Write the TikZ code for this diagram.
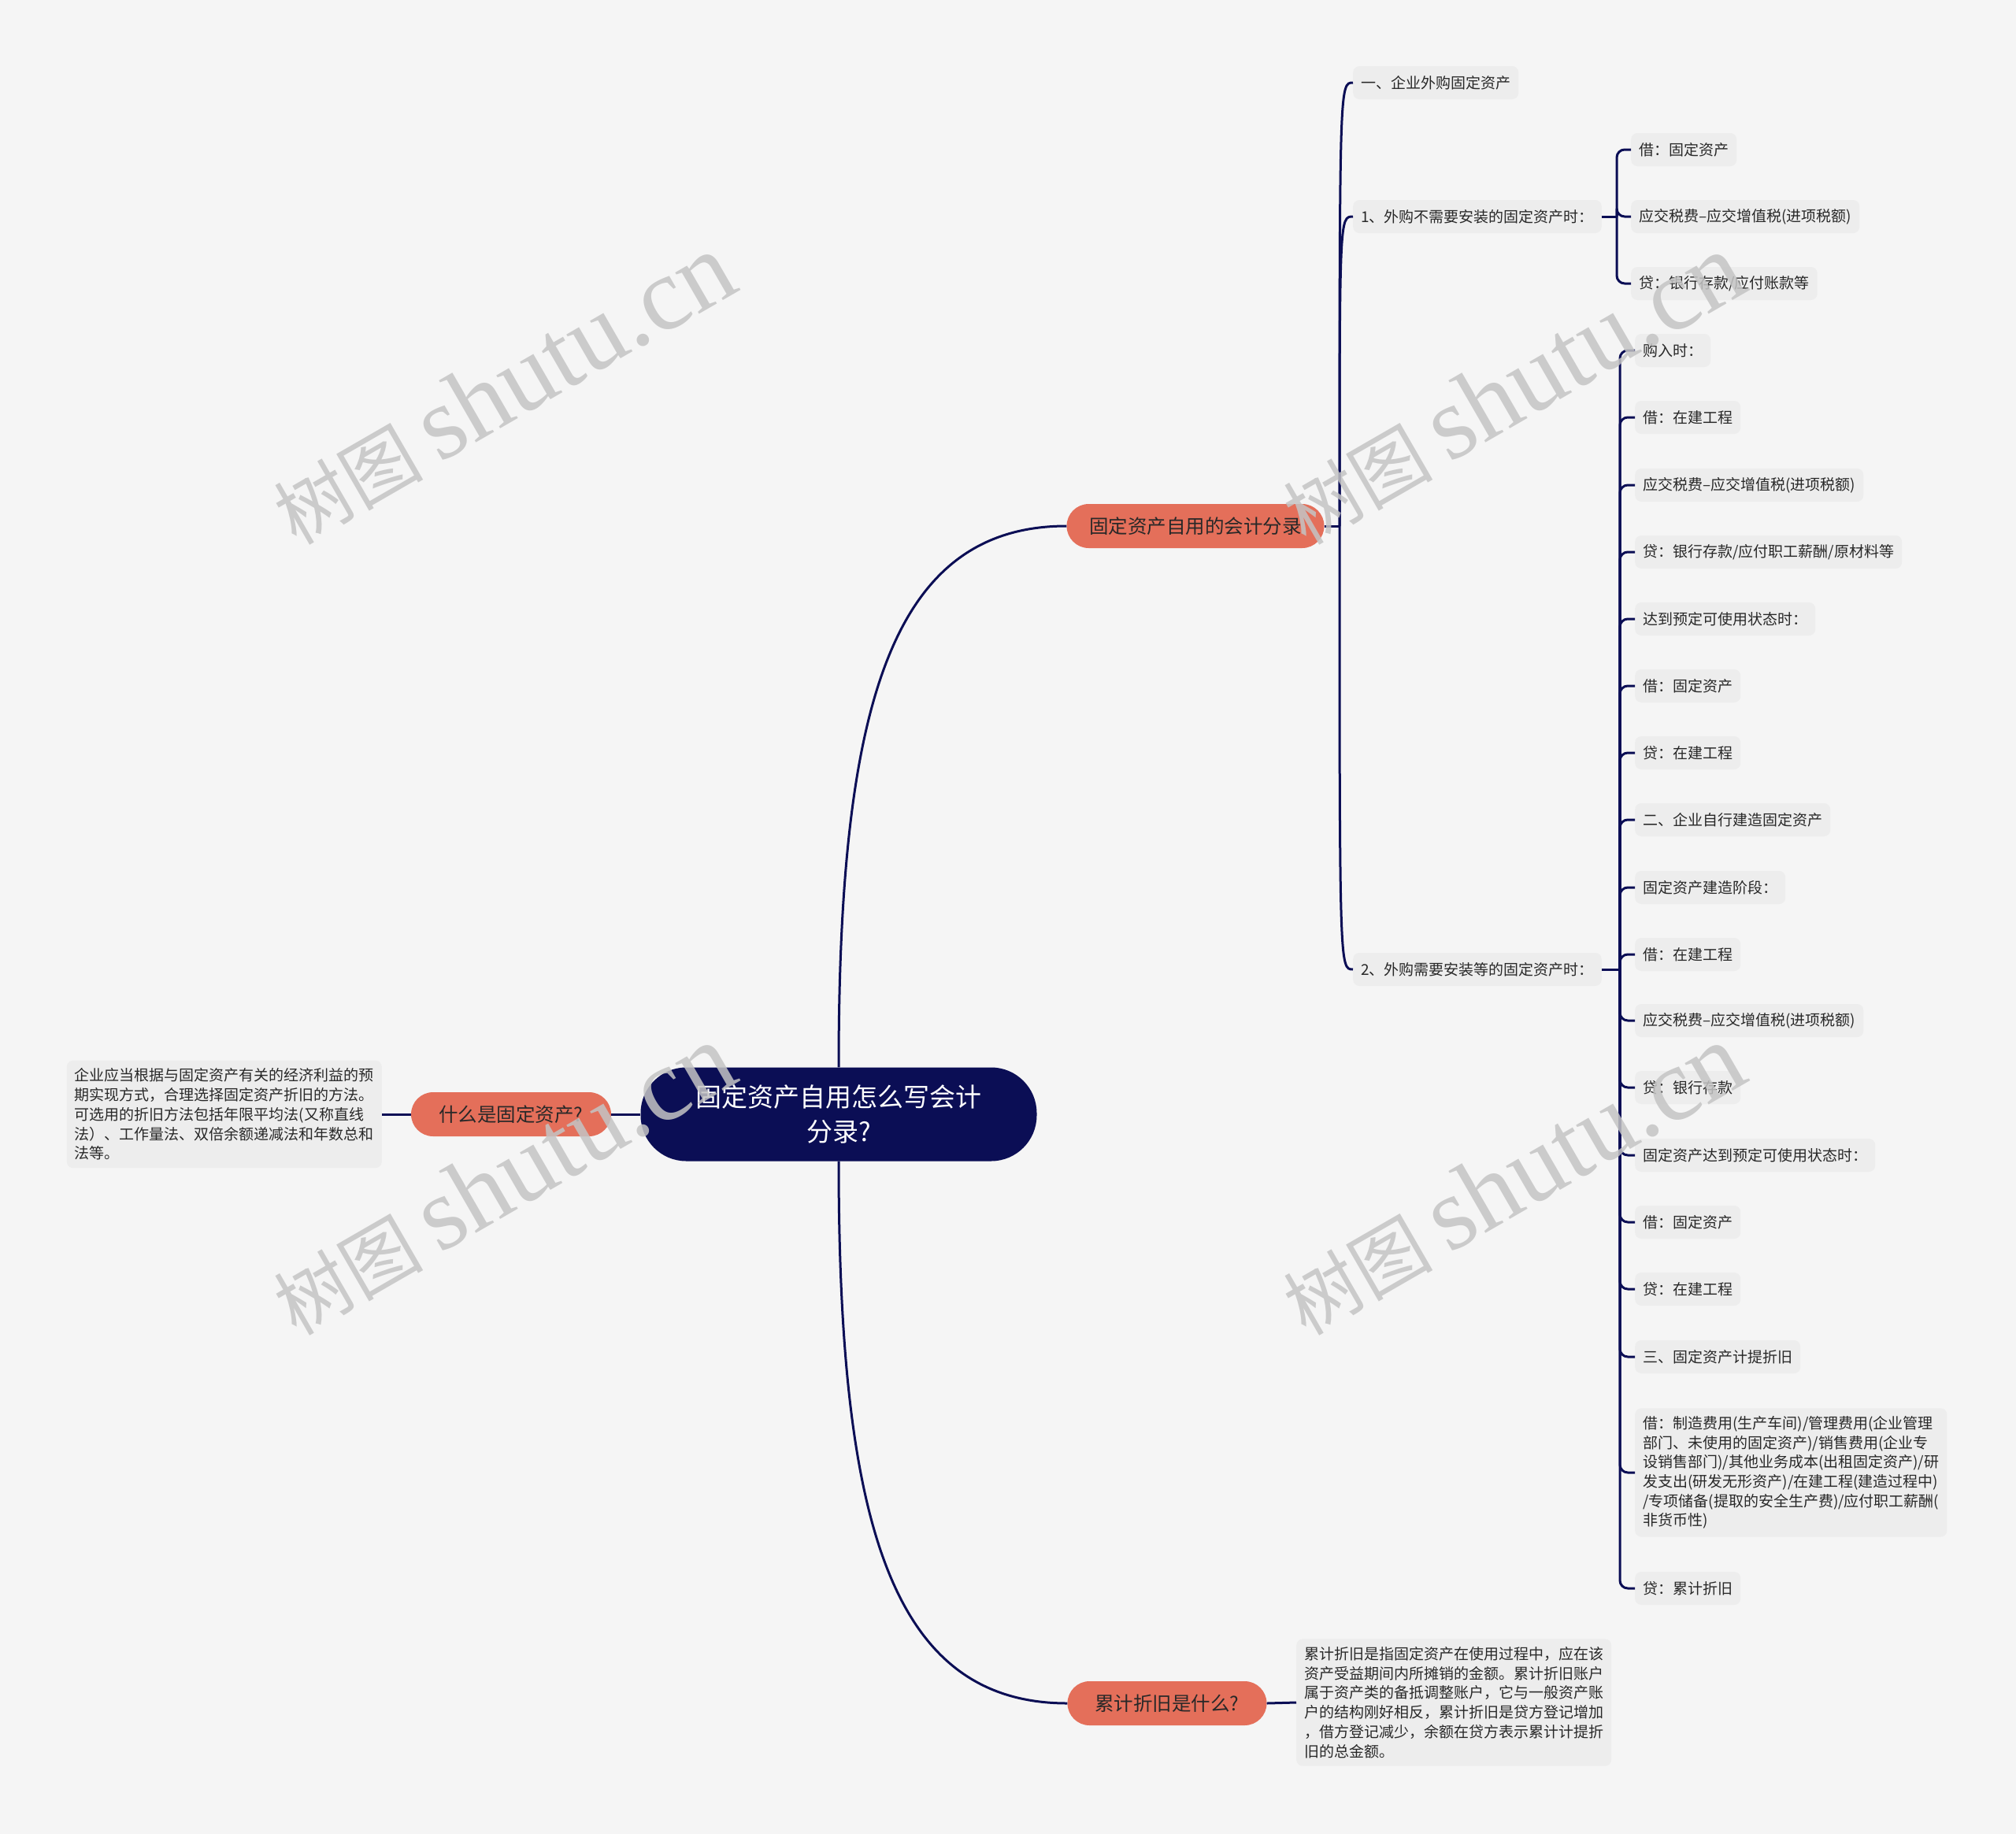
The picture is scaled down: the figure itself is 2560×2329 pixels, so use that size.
\documentclass[tikz,border=0pt]{standalone}
\usepackage{fontspec}
\setmainfont{Noto Sans CJK SC}
\newfontfamily\wmcjk{Noto Sans CJK SC}
\newfontfamily\wmlat{Liberation Serif}
\definecolor{bgc}{RGB}{245,245,245}
\definecolor{navy}{RGB}{11,14,85}
\definecolor{salmon}{RGB}{228,111,90}
\definecolor{leaff}{RGB}{237,237,237}
\definecolor{txt}{RGB}{40,40,40}
\definecolor{wm}{RGB}{196,196,196}
\begin{document}
\begin{tikzpicture}[x=1pt,y=-1pt,
 line/.style={draw=navy,line width=3pt},
 rootn/.style={fill=navy,text=white,rounded corners=58pt,minimum width=503pt,minimum height=119pt,align=center,font=\fontsize{33}{44}\selectfont,inner sep=0pt},
 br/.style={fill=salmon,text=txt,rounded corners=28pt,minimum height=56pt,inner sep=0pt,font=\fontsize{24.5}{30}\selectfont},
 leaf/.style={fill=leaff,text=txt,rounded corners=8pt,minimum height=42pt,inner xsep=10pt,inner ysep=9pt,font=\fontsize{19}{24.7}\selectfont,align=left},
 wmk/.style={text=wm,rotate=30,anchor=base west,opacity=0.85,inner sep=0pt}
]
\useasboundingbox (0,0) rectangle (2560,2329);
\fill[bgc] (0,0) rectangle (2560,2329);

% root and main branches
\node[rootn] (root) at (1065,1415) {固定资产自用怎么写会计\\分录?};
\node[br,minimum width=327pt] (A) at (1518,668) {固定资产自用的会计分录};
\node[br,minimum width=254pt] (B) at (649,1415) {什么是固定资产?};
\node[br,minimum width=253pt] (C) at (1482,2163) {累计折旧是什么?};

% left and bottom text boxes
\node[leaf,anchor=east,inner ysep=10pt] (Bt) at (485,1415) {企业应当根据与固定资产有关的经济利益的预\\期实现方式，合理选择固定资产折旧的方法。\\可选用的折旧方法包括年限平均法(又称直线\\法）、工作量法、双倍余额递减法和年数总和\\法等。};
\node[leaf,anchor=west,inner ysep=10pt] (Ct) at (1646,2162) {累计折旧是指固定资产在使用过程中，应在该\\资产受益期间内所摊销的金额。累计折旧账户\\属于资产类的备抵调整账户，它与一般资产账\\户的结构刚好相反，累计折旧是贷方登记增加\\，借方登记减少，余额在贷方表示累计计提折\\旧的总金额。};

% second level under A
\node[leaf,anchor=west] (a1) at (1718,105) {一、企业外购固定资产};
\node[leaf,anchor=west] (a2) at (1718,275) {1、外购不需要安装的固定资产时：};
\node[leaf,anchor=west] (a3) at (1718,1231) {2、外购需要安装等的固定资产时：};

% children of a2
\node[leaf,anchor=west] (b1) at (2071,190) {借：固定资产};
\node[leaf,anchor=west] (b2) at (2071,275) {应交税费–应交增值税(进项税额)};
\node[leaf,anchor=west] (b3) at (2071,360) {贷：银行存款/应付账款等};

% children of a3
\node[leaf,anchor=west] (c1) at (2076,445) {购入时：};
\node[leaf,anchor=west] (c2) at (2076,530) {借：在建工程};
\node[leaf,anchor=west] (c3) at (2076,616) {应交税费–应交增值税(进项税额)};
\node[leaf,anchor=west] (c4) at (2076,701) {贷：银行存款/应付职工薪酬/原材料等};
\node[leaf,anchor=west] (c5) at (2076,786) {达到预定可使用状态时：};
\node[leaf,anchor=west] (c6) at (2076,871) {借：固定资产};
\node[leaf,anchor=west] (c7) at (2076,956) {贷：在建工程};
\node[leaf,anchor=west] (c8) at (2076,1041) {二、企业自行建造固定资产};
\node[leaf,anchor=west] (c9) at (2076,1127) {固定资产建造阶段：};
\node[leaf,anchor=west] (c10) at (2076,1212) {借：在建工程};
\node[leaf,anchor=west] (c11) at (2076,1296) {应交税费–应交增值税(进项税额)};
\node[leaf,anchor=west] (c12) at (2076,1381) {贷：银行存款};
\node[leaf,anchor=west] (c13) at (2076,1467) {固定资产达到预定可使用状态时：};
\node[leaf,anchor=west] (c14) at (2076,1552) {借：固定资产};
\node[leaf,anchor=west] (c15) at (2076,1637) {贷：在建工程};
\node[leaf,anchor=west] (c16) at (2076,1723) {三、固定资产计提折旧};
\node[leaf,anchor=west,inner ysep=10pt] (c17) at (2076,1870) {借：制造费用(生产车间)/管理费用(企业管理\\部门、未使用的固定资产)/销售费用(企业专\\设销售部门)/其他业务成本(出租固定资产)/研\\发支出(研发无形资产)/在建工程(建造过程中)\\/专项储备(提取的安全生产费)/应付职工薪酬(\\非货币性)};
\node[leaf,anchor=west] (c18) at (2076,2017) {贷：累计折旧};

% connectors: root level
\draw[line] (root.north) .. controls (1065,900) and (1130,668) .. (A.west);
\draw[line] (root.south) .. controls (1065,1930) and (1130,2163) .. (C.west);
\draw[line] (root.west) -- (B.east);
\draw[line] (B.west) -- (Bt.east);
\draw[line] (C.east) -- (Ct.west);

% A to its children
\coordinate (sA) at (1701,668);
\draw[line] (A.east) -- (sA);
\draw[line] (sA) .. controls (1701,105) .. (a1.west);
\draw[line] (sA) .. controls (1701,275) .. (a2.west);
\draw[line] (sA) .. controls (1701,1231) .. (a3.west);

% a2 bracket
\coordinate (s2) at (2053,275);
\draw[line] (a2.east) -- (s2);
\foreach \n in {b1,b2,b3}{\draw[line,rounded corners=10pt] (s2) |- (\n.west);}

% a3 bracket
\coordinate (s3) at (2057,1231);
\draw[line] (a3.east) -- (s3);
\foreach \n in {c1,c2,c3,c4,c5,c6,c7,c8,c9,c10,c11,c12,c13,c14,c15,c16,c17,c18}{\draw[line,rounded corners=10pt] (s3) |- (\n.west);}

% watermarks
\node[wmk] (w1) at (376,694) {{\wmcjk\fontsize{95}{95}\selectfont 树图}\hspace{20pt}{\wmlat\fontsize{132}{132}\selectfont shutu.cn}};
\node[wmk] (w2) at (1658,694) {{\wmcjk\fontsize{95}{95}\selectfont 树图}\hspace{20pt}{\wmlat\fontsize{132}{132}\selectfont shutu.cn}};
\node[wmk] (w3) at (376,1698) {{\wmcjk\fontsize{95}{95}\selectfont 树图}\hspace{20pt}{\wmlat\fontsize{132}{132}\selectfont shutu.cn}};
\node[wmk] (w4) at (1658,1698) {{\wmcjk\fontsize{95}{95}\selectfont 树图}\hspace{20pt}{\wmlat\fontsize{132}{132}\selectfont shutu.cn}};
\end{tikzpicture}
\end{document}
